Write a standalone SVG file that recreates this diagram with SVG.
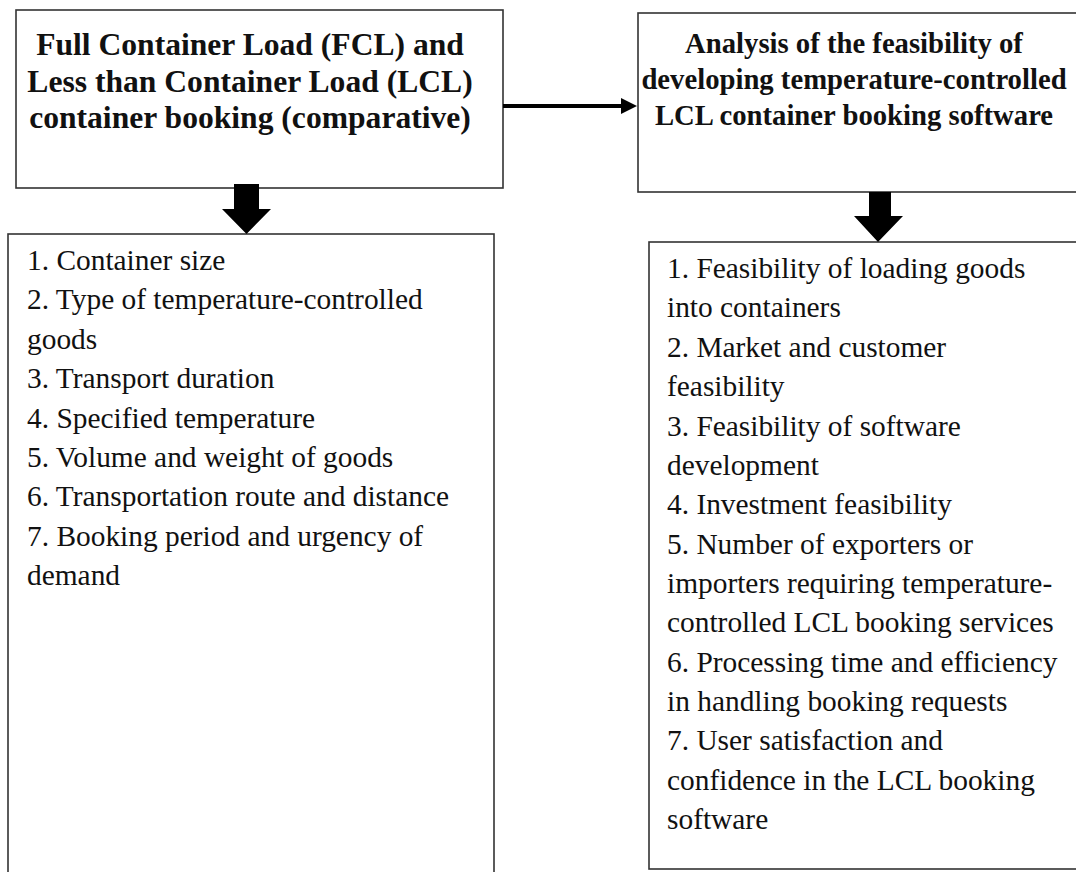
<svg xmlns="http://www.w3.org/2000/svg" width="1076" height="872" viewBox="0 0 1076 872">
<style>
.box{fill:#fff;stroke:#333;stroke-width:1.6}
.title{font-family:"Liberation Serif","Times New Roman",serif;font-weight:bold;fill:#111;text-anchor:middle}
.item{font-family:"Liberation Serif","Times New Roman",serif;font-size:29.4px;fill:#111}
.block{fill:#000}
</style>
<rect width="1076" height="872" fill="#fff"/>
<g id="node-fcl-lcl">
<rect class="box" x="16" y="10" width="487" height="178"/>
<text class="title" font-size="31.6" x="250" y="55">Full Container Load (FCL) and</text>
<text class="title" font-size="31.6" x="250" y="92">Less than Container Load (LCL)</text>
<text class="title" font-size="31.6" x="250" y="128">container booking (comparative)</text>
</g>
<g id="node-feasibility">
<rect class="box" x="638" y="13" width="450" height="179"/>
<text class="title" font-size="28.7" x="854" y="53">Analysis of the feasibility of</text>
<text class="title" font-size="28.7" x="854" y="89">developing temperature-controlled</text>
<text class="title" font-size="28.7" x="854" y="125">LCL container booking software</text>
</g>
<g id="node-left-list">
<rect class="box" x="8" y="234" width="486" height="650"/>
<text class="item" x="27" y="270">1. Container size</text>
<text class="item" x="27" y="309">2. Type of temperature-controlled</text>
<text class="item" x="27" y="349">goods</text>
<text class="item" x="27" y="388">3. Transport duration</text>
<text class="item" x="27" y="428">4. Specified temperature</text>
<text class="item" x="27" y="467">5. Volume and weight of goods</text>
<text class="item" x="27" y="506">6. Transportation route and distance</text>
<text class="item" x="27" y="546">7. Booking period and urgency of</text>
<text class="item" x="27" y="585">demand</text>
</g>
<g id="node-right-list">
<rect class="box" x="649" y="242" width="440" height="627"/>
<text class="item" x="667" y="278">1. Feasibility of loading goods</text>
<text class="item" x="667" y="317">into containers</text>
<text class="item" x="667" y="357">2. Market and customer</text>
<text class="item" x="667" y="396">feasibility</text>
<text class="item" x="667" y="436">3. Feasibility of software</text>
<text class="item" x="667" y="475">development</text>
<text class="item" x="667" y="514">4. Investment feasibility</text>
<text class="item" x="667" y="554">5. Number of exporters or</text>
<text class="item" x="667" y="593">importers requiring temperature-</text>
<text class="item" x="667" y="632">controlled LCL booking services</text>
<text class="item" x="667" y="672">6. Processing time and efficiency</text>
<text class="item" x="667" y="711">in handling booking requests</text>
<text class="item" x="667" y="750">7. User satisfaction and</text>
<text class="item" x="667" y="790">confidence in the LCL booking</text>
<text class="item" x="667" y="829">software</text>
</g>
<g id="connectors">
<line x1="503" y1="106" x2="623" y2="106" stroke="#000" stroke-width="4"/>
<polygon class="block" points="621,98 637,106 621,114"/>
<polygon class="block" points="234,184 259,184 259,209 271,209 246.5,234 222,209 234,209"/>
<polygon class="block" points="869,192 891,192 891,216 903,216 878,242 854,216 869,216"/>
</g>
</svg>
